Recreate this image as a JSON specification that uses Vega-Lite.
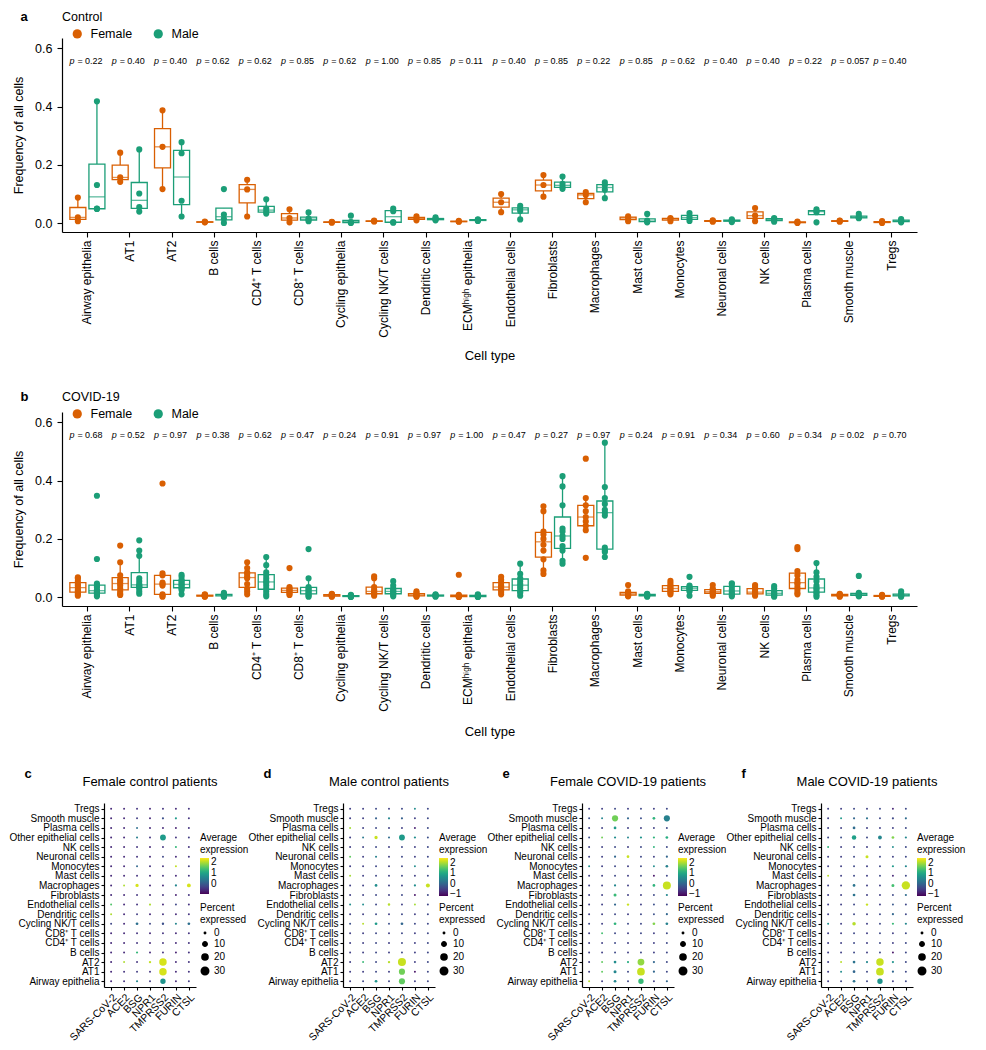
{
"$schema":"https://vega.github.io/schema/vega-lite/v6.json",
"padding":{"left":8,"top":11,"right":2,"bottom":2},
"background":"white",
"config":{"font":"Liberation Sans","view":{"stroke":null},
"axis":{"grid":false,"domainColor":"black","tickColor":"black","labelColor":"black","titleColor":"black","titleFontWeight":"normal","domainWidth":1.2,"tickWidth":1.1},
"legend":{"titleFontWeight":"normal","labelColor":"black","titleColor":"black"},
"title":{"color":"black"}},
"datasets":{
"ctrl":[
{"t":"Airway epithelia","s":"Female","v":0.007},{"t":"Airway epithelia","s":"Female","v":0.02},{"t":"Airway epithelia","s":"Female","v":0.088},
{"t":"Airway epithelia","s":"Male","v":0.049},{"t":"Airway epithelia","s":"Male","v":0.05},{"t":"Airway epithelia","s":"Male","v":0.131},{"t":"Airway epithelia","s":"Male","v":0.418},
{"t":"AT1","s":"Female","v":0.142},{"t":"AT1","s":"Female","v":0.157},{"t":"AT1","s":"Female","v":0.242},
{"t":"AT1","s":"Male","v":0.04},{"t":"AT1","s":"Male","v":0.055},{"t":"AT1","s":"Male","v":0.102},{"t":"AT1","s":"Male","v":0.253},
{"t":"AT2","s":"Female","v":0.117},{"t":"AT2","s":"Female","v":0.262},{"t":"AT2","s":"Female","v":0.387},
{"t":"AT2","s":"Male","v":0.023},{"t":"AT2","s":"Male","v":0.077},{"t":"AT2","s":"Male","v":0.24},{"t":"AT2","s":"Male","v":0.278},
{"t":"B cells","s":"Female","v":0.003},{"t":"B cells","s":"Female","v":0.004},{"t":"B cells","s":"Female","v":0.006},
{"t":"B cells","s":"Male","v":0.001},{"t":"B cells","s":"Male","v":0.015},{"t":"B cells","s":"Male","v":0.03},{"t":"B cells","s":"Male","v":0.117},
{"t":"CD4⁺ T cells","s":"Female","v":0.023},{"t":"CD4⁺ T cells","s":"Female","v":0.116},{"t":"CD4⁺ T cells","s":"Female","v":0.149},
{"t":"CD4⁺ T cells","s":"Male","v":0.033},{"t":"CD4⁺ T cells","s":"Male","v":0.04},{"t":"CD4⁺ T cells","s":"Male","v":0.05},{"t":"CD4⁺ T cells","s":"Male","v":0.082},
{"t":"CD8⁺ T cells","s":"Female","v":0.003},{"t":"CD8⁺ T cells","s":"Female","v":0.018},{"t":"CD8⁺ T cells","s":"Female","v":0.048},
{"t":"CD8⁺ T cells","s":"Male","v":0.007},{"t":"CD8⁺ T cells","s":"Male","v":0.012},{"t":"CD8⁺ T cells","s":"Male","v":0.016},{"t":"CD8⁺ T cells","s":"Male","v":0.037},
{"t":"Cycling epithelia","s":"Female","v":0.002},{"t":"Cycling epithelia","s":"Female","v":0.004},{"t":"Cycling epithelia","s":"Female","v":0.005},
{"t":"Cycling epithelia","s":"Male","v":0.001},{"t":"Cycling epithelia","s":"Male","v":0.003},{"t":"Cycling epithelia","s":"Male","v":0.004},{"t":"Cycling epithelia","s":"Male","v":0.026},
{"t":"Cycling NK/T cells","s":"Female","v":0.006},{"t":"Cycling NK/T cells","s":"Female","v":0.007},{"t":"Cycling NK/T cells","s":"Female","v":0.009},
{"t":"Cycling NK/T cells","s":"Male","v":0.002},{"t":"Cycling NK/T cells","s":"Male","v":0.004},{"t":"Cycling NK/T cells","s":"Male","v":0.041},{"t":"Cycling NK/T cells","s":"Male","v":0.05},
{"t":"Dendritic cells","s":"Female","v":0.01},{"t":"Dendritic cells","s":"Female","v":0.016},{"t":"Dendritic cells","s":"Female","v":0.024},
{"t":"Dendritic cells","s":"Male","v":0.01},{"t":"Dendritic cells","s":"Male","v":0.013},{"t":"Dendritic cells","s":"Male","v":0.015},{"t":"Dendritic cells","s":"Male","v":0.02},
{"t":"ECMʰⁱᵍʰ epithelia","s":"Female","v":0.005},{"t":"ECMʰⁱᵍʰ epithelia","s":"Female","v":0.006},{"t":"ECMʰⁱᵍʰ epithelia","s":"Female","v":0.008},
{"t":"ECMʰⁱᵍʰ epithelia","s":"Male","v":0.008},{"t":"ECMʰⁱᵍʰ epithelia","s":"Male","v":0.01},{"t":"ECMʰⁱᵍʰ epithelia","s":"Male","v":0.012},{"t":"ECMʰⁱᵍʰ epithelia","s":"Male","v":0.013},
{"t":"Endothelial cells","s":"Female","v":0.038},{"t":"Endothelial cells","s":"Female","v":0.072},{"t":"Endothelial cells","s":"Female","v":0.1},
{"t":"Endothelial cells","s":"Male","v":0.013},{"t":"Endothelial cells","s":"Male","v":0.042},{"t":"Endothelial cells","s":"Male","v":0.05},{"t":"Endothelial cells","s":"Male","v":0.06},
{"t":"Fibroblasts","s":"Female","v":0.091},{"t":"Fibroblasts","s":"Female","v":0.131},{"t":"Fibroblasts","s":"Female","v":0.165},
{"t":"Fibroblasts","s":"Male","v":0.118},{"t":"Fibroblasts","s":"Male","v":0.125},{"t":"Fibroblasts","s":"Male","v":0.135},{"t":"Fibroblasts","s":"Male","v":0.16},
{"t":"Macrophages","s":"Female","v":0.072},{"t":"Macrophages","s":"Female","v":0.097},{"t":"Macrophages","s":"Female","v":0.107},
{"t":"Macrophages","s":"Male","v":0.086},{"t":"Macrophages","s":"Male","v":0.115},{"t":"Macrophages","s":"Male","v":0.13},{"t":"Macrophages","s":"Male","v":0.14},
{"t":"Mast cells","s":"Female","v":0.007},{"t":"Mast cells","s":"Female","v":0.018},{"t":"Mast cells","s":"Female","v":0.024},
{"t":"Mast cells","s":"Male","v":0.003},{"t":"Mast cells","s":"Male","v":0.006},{"t":"Mast cells","s":"Male","v":0.009},{"t":"Mast cells","s":"Male","v":0.032},
{"t":"Monocytes","s":"Female","v":0.007},{"t":"Monocytes","s":"Female","v":0.015},{"t":"Monocytes","s":"Female","v":0.018},
{"t":"Monocytes","s":"Male","v":0.008},{"t":"Monocytes","s":"Male","v":0.015},{"t":"Monocytes","s":"Male","v":0.024},{"t":"Monocytes","s":"Male","v":0.035},
{"t":"Neuronal cells","s":"Female","v":0.005},{"t":"Neuronal cells","s":"Female","v":0.008},{"t":"Neuronal cells","s":"Female","v":0.01},
{"t":"Neuronal cells","s":"Male","v":0.004},{"t":"Neuronal cells","s":"Male","v":0.008},{"t":"Neuronal cells","s":"Male","v":0.01},{"t":"Neuronal cells","s":"Male","v":0.013},
{"t":"NK cells","s":"Female","v":0.007},{"t":"NK cells","s":"Female","v":0.026},{"t":"NK cells","s":"Female","v":0.052},
{"t":"NK cells","s":"Male","v":0.005},{"t":"NK cells","s":"Male","v":0.01},{"t":"NK cells","s":"Male","v":0.015},{"t":"NK cells","s":"Male","v":0.018},
{"t":"Plasma cells","s":"Female","v":0.001},{"t":"Plasma cells","s":"Female","v":0.003},{"t":"Plasma cells","s":"Female","v":0.006},
{"t":"Plasma cells","s":"Male","v":0.003},{"t":"Plasma cells","s":"Male","v":0.038},{"t":"Plasma cells","s":"Male","v":0.042},{"t":"Plasma cells","s":"Male","v":0.048},
{"t":"Smooth muscle","s":"Female","v":0.005},{"t":"Smooth muscle","s":"Female","v":0.008},{"t":"Smooth muscle","s":"Female","v":0.009},
{"t":"Smooth muscle","s":"Male","v":0.017},{"t":"Smooth muscle","s":"Male","v":0.019},{"t":"Smooth muscle","s":"Male","v":0.022},{"t":"Smooth muscle","s":"Male","v":0.032},
{"t":"Tregs","s":"Female","v":0.001},{"t":"Tregs","s":"Female","v":0.004},{"t":"Tregs","s":"Female","v":0.007},
{"t":"Tregs","s":"Male","v":0.003},{"t":"Tregs","s":"Male","v":0.006},{"t":"Tregs","s":"Male","v":0.01},{"t":"Tregs","s":"Male","v":0.014}
],
"covid":[
{"t":"Airway epithelia","s":"Female","v":0.005},{"t":"Airway epithelia","s":"Female","v":0.01},{"t":"Airway epithelia","s":"Female","v":0.015},{"t":"Airway epithelia","s":"Female","v":0.02},{"t":"Airway epithelia","s":"Female","v":0.025},{"t":"Airway epithelia","s":"Female","v":0.033},{"t":"Airway epithelia","s":"Female","v":0.04},{"t":"Airway epithelia","s":"Female","v":0.045},{"t":"Airway epithelia","s":"Female","v":0.055},{"t":"Airway epithelia","s":"Female","v":0.065},{"t":"Airway epithelia","s":"Female","v":0.068},
{"t":"Airway epithelia","s":"Male","v":0.003},{"t":"Airway epithelia","s":"Male","v":0.008},{"t":"Airway epithelia","s":"Male","v":0.012},{"t":"Airway epithelia","s":"Male","v":0.015},{"t":"Airway epithelia","s":"Male","v":0.018},{"t":"Airway epithelia","s":"Male","v":0.02},{"t":"Airway epithelia","s":"Male","v":0.025},{"t":"Airway epithelia","s":"Male","v":0.035},{"t":"Airway epithelia","s":"Male","v":0.04},{"t":"Airway epithelia","s":"Male","v":0.047},{"t":"Airway epithelia","s":"Male","v":0.131},{"t":"Airway epithelia","s":"Male","v":0.348},
{"t":"AT1","s":"Female","v":0.008},{"t":"AT1","s":"Female","v":0.012},{"t":"AT1","s":"Female","v":0.02},{"t":"AT1","s":"Female","v":0.03},{"t":"AT1","s":"Female","v":0.04},{"t":"AT1","s":"Female","v":0.047},{"t":"AT1","s":"Female","v":0.055},{"t":"AT1","s":"Female","v":0.06},{"t":"AT1","s":"Female","v":0.075},{"t":"AT1","s":"Female","v":0.12},{"t":"AT1","s":"Female","v":0.177},
{"t":"AT1","s":"Male","v":0.012},{"t":"AT1","s":"Male","v":0.02},{"t":"AT1","s":"Male","v":0.03},{"t":"AT1","s":"Male","v":0.035},{"t":"AT1","s":"Male","v":0.038},{"t":"AT1","s":"Male","v":0.04},{"t":"AT1","s":"Male","v":0.045},{"t":"AT1","s":"Male","v":0.055},{"t":"AT1","s":"Male","v":0.065},{"t":"AT1","s":"Male","v":0.142},{"t":"AT1","s":"Male","v":0.16},{"t":"AT1","s":"Male","v":0.195},
{"t":"AT2","s":"Female","v":0.002},{"t":"AT2","s":"Female","v":0.005},{"t":"AT2","s":"Female","v":0.01},{"t":"AT2","s":"Female","v":0.04},{"t":"AT2","s":"Female","v":0.045},{"t":"AT2","s":"Female","v":0.05},{"t":"AT2","s":"Female","v":0.075},{"t":"AT2","s":"Female","v":0.082},{"t":"AT2","s":"Female","v":0.39},
{"t":"AT2","s":"Male","v":0.01},{"t":"AT2","s":"Male","v":0.025},{"t":"AT2","s":"Male","v":0.03},{"t":"AT2","s":"Male","v":0.035},{"t":"AT2","s":"Male","v":0.04},{"t":"AT2","s":"Male","v":0.044},{"t":"AT2","s":"Male","v":0.05},{"t":"AT2","s":"Male","v":0.055},{"t":"AT2","s":"Male","v":0.06},{"t":"AT2","s":"Male","v":0.07},{"t":"AT2","s":"Male","v":0.077},
{"t":"B cells","s":"Female","v":0.002},{"t":"B cells","s":"Female","v":0.003},{"t":"B cells","s":"Female","v":0.004},{"t":"B cells","s":"Female","v":0.004},{"t":"B cells","s":"Female","v":0.005},{"t":"B cells","s":"Female","v":0.006},{"t":"B cells","s":"Female","v":0.007},{"t":"B cells","s":"Female","v":0.008},{"t":"B cells","s":"Female","v":0.01},
{"t":"B cells","s":"Male","v":0.002},{"t":"B cells","s":"Male","v":0.003},{"t":"B cells","s":"Male","v":0.005},{"t":"B cells","s":"Male","v":0.006},{"t":"B cells","s":"Male","v":0.008},{"t":"B cells","s":"Male","v":0.009},{"t":"B cells","s":"Male","v":0.01},{"t":"B cells","s":"Male","v":0.012},{"t":"B cells","s":"Male","v":0.015},
{"t":"CD4⁺ T cells","s":"Female","v":0.01},{"t":"CD4⁺ T cells","s":"Female","v":0.02},{"t":"CD4⁺ T cells","s":"Female","v":0.03},{"t":"CD4⁺ T cells","s":"Female","v":0.045},{"t":"CD4⁺ T cells","s":"Female","v":0.065},{"t":"CD4⁺ T cells","s":"Female","v":0.07},{"t":"CD4⁺ T cells","s":"Female","v":0.08},{"t":"CD4⁺ T cells","s":"Female","v":0.085},{"t":"CD4⁺ T cells","s":"Female","v":0.1},{"t":"CD4⁺ T cells","s":"Female","v":0.12},
{"t":"CD4⁺ T cells","s":"Male","v":0.003},{"t":"CD4⁺ T cells","s":"Male","v":0.01},{"t":"CD4⁺ T cells","s":"Male","v":0.02},{"t":"CD4⁺ T cells","s":"Male","v":0.03},{"t":"CD4⁺ T cells","s":"Male","v":0.04},{"t":"CD4⁺ T cells","s":"Male","v":0.05},{"t":"CD4⁺ T cells","s":"Male","v":0.055},{"t":"CD4⁺ T cells","s":"Male","v":0.065},{"t":"CD4⁺ T cells","s":"Male","v":0.075},{"t":"CD4⁺ T cells","s":"Male","v":0.085},{"t":"CD4⁺ T cells","s":"Male","v":0.11},{"t":"CD4⁺ T cells","s":"Male","v":0.138},
{"t":"CD8⁺ T cells","s":"Female","v":0.008},{"t":"CD8⁺ T cells","s":"Female","v":0.012},{"t":"CD8⁺ T cells","s":"Female","v":0.018},{"t":"CD8⁺ T cells","s":"Female","v":0.022},{"t":"CD8⁺ T cells","s":"Female","v":0.025},{"t":"CD8⁺ T cells","s":"Female","v":0.03},{"t":"CD8⁺ T cells","s":"Female","v":0.035},{"t":"CD8⁺ T cells","s":"Female","v":0.1},
{"t":"CD8⁺ T cells","s":"Male","v":0.002},{"t":"CD8⁺ T cells","s":"Male","v":0.005},{"t":"CD8⁺ T cells","s":"Male","v":0.01},{"t":"CD8⁺ T cells","s":"Male","v":0.015},{"t":"CD8⁺ T cells","s":"Male","v":0.02},{"t":"CD8⁺ T cells","s":"Male","v":0.025},{"t":"CD8⁺ T cells","s":"Male","v":0.03},{"t":"CD8⁺ T cells","s":"Male","v":0.035},{"t":"CD8⁺ T cells","s":"Male","v":0.065},{"t":"CD8⁺ T cells","s":"Male","v":0.165},
{"t":"Cycling epithelia","s":"Female","v":0.002},{"t":"Cycling epithelia","s":"Female","v":0.003},{"t":"Cycling epithelia","s":"Female","v":0.005},{"t":"Cycling epithelia","s":"Female","v":0.006},{"t":"Cycling epithelia","s":"Female","v":0.008},{"t":"Cycling epithelia","s":"Female","v":0.01},{"t":"Cycling epithelia","s":"Female","v":0.012},
{"t":"Cycling epithelia","s":"Male","v":0.001},{"t":"Cycling epithelia","s":"Male","v":0.002},{"t":"Cycling epithelia","s":"Male","v":0.003},{"t":"Cycling epithelia","s":"Male","v":0.004},{"t":"Cycling epithelia","s":"Male","v":0.005},{"t":"Cycling epithelia","s":"Male","v":0.006},{"t":"Cycling epithelia","s":"Male","v":0.008},
{"t":"Cycling NK/T cells","s":"Female","v":0.005},{"t":"Cycling NK/T cells","s":"Female","v":0.01},{"t":"Cycling NK/T cells","s":"Female","v":0.012},{"t":"Cycling NK/T cells","s":"Female","v":0.015},{"t":"Cycling NK/T cells","s":"Female","v":0.02},{"t":"Cycling NK/T cells","s":"Female","v":0.025},{"t":"Cycling NK/T cells","s":"Female","v":0.035},{"t":"Cycling NK/T cells","s":"Female","v":0.065},{"t":"Cycling NK/T cells","s":"Female","v":0.072},
{"t":"Cycling NK/T cells","s":"Male","v":0.003},{"t":"Cycling NK/T cells","s":"Male","v":0.008},{"t":"Cycling NK/T cells","s":"Male","v":0.012},{"t":"Cycling NK/T cells","s":"Male","v":0.018},{"t":"Cycling NK/T cells","s":"Male","v":0.02},{"t":"Cycling NK/T cells","s":"Male","v":0.025},{"t":"Cycling NK/T cells","s":"Male","v":0.03},{"t":"Cycling NK/T cells","s":"Male","v":0.04},{"t":"Cycling NK/T cells","s":"Male","v":0.055},
{"t":"Dendritic cells","s":"Female","v":0.002},{"t":"Dendritic cells","s":"Female","v":0.004},{"t":"Dendritic cells","s":"Female","v":0.006},{"t":"Dendritic cells","s":"Female","v":0.008},{"t":"Dendritic cells","s":"Female","v":0.01},{"t":"Dendritic cells","s":"Female","v":0.015},{"t":"Dendritic cells","s":"Female","v":0.02},
{"t":"Dendritic cells","s":"Male","v":0.002},{"t":"Dendritic cells","s":"Male","v":0.004},{"t":"Dendritic cells","s":"Male","v":0.005},{"t":"Dendritic cells","s":"Male","v":0.006},{"t":"Dendritic cells","s":"Male","v":0.008},{"t":"Dendritic cells","s":"Male","v":0.01},
{"t":"ECMʰⁱᵍʰ epithelia","s":"Female","v":0.001},{"t":"ECMʰⁱᵍʰ epithelia","s":"Female","v":0.002},{"t":"ECMʰⁱᵍʰ epithelia","s":"Female","v":0.003},{"t":"ECMʰⁱᵍʰ epithelia","s":"Female","v":0.004},{"t":"ECMʰⁱᵍʰ epithelia","s":"Female","v":0.006},{"t":"ECMʰⁱᵍʰ epithelia","s":"Female","v":0.008},{"t":"ECMʰⁱᵍʰ epithelia","s":"Female","v":0.077},
{"t":"ECMʰⁱᵍʰ epithelia","s":"Male","v":0.001},{"t":"ECMʰⁱᵍʰ epithelia","s":"Male","v":0.002},{"t":"ECMʰⁱᵍʰ epithelia","s":"Male","v":0.003},{"t":"ECMʰⁱᵍʰ epithelia","s":"Male","v":0.005},{"t":"ECMʰⁱᵍʰ epithelia","s":"Male","v":0.007},{"t":"ECMʰⁱᵍʰ epithelia","s":"Male","v":0.01},
{"t":"Endothelial cells","s":"Female","v":0.01},{"t":"Endothelial cells","s":"Female","v":0.018},{"t":"Endothelial cells","s":"Female","v":0.025},{"t":"Endothelial cells","s":"Female","v":0.03},{"t":"Endothelial cells","s":"Female","v":0.035},{"t":"Endothelial cells","s":"Female","v":0.04},{"t":"Endothelial cells","s":"Female","v":0.05},{"t":"Endothelial cells","s":"Female","v":0.06},{"t":"Endothelial cells","s":"Female","v":0.07},
{"t":"Endothelial cells","s":"Male","v":0.005},{"t":"Endothelial cells","s":"Male","v":0.015},{"t":"Endothelial cells","s":"Male","v":0.02},{"t":"Endothelial cells","s":"Male","v":0.03},{"t":"Endothelial cells","s":"Male","v":0.038},{"t":"Endothelial cells","s":"Male","v":0.045},{"t":"Endothelial cells","s":"Male","v":0.055},{"t":"Endothelial cells","s":"Male","v":0.065},{"t":"Endothelial cells","s":"Male","v":0.08},{"t":"Endothelial cells","s":"Male","v":0.115},
{"t":"Fibroblasts","s":"Female","v":0.08},{"t":"Fibroblasts","s":"Female","v":0.092},{"t":"Fibroblasts","s":"Female","v":0.13},{"t":"Fibroblasts","s":"Female","v":0.16},{"t":"Fibroblasts","s":"Female","v":0.18},{"t":"Fibroblasts","s":"Female","v":0.2},{"t":"Fibroblasts","s":"Female","v":0.215},{"t":"Fibroblasts","s":"Female","v":0.225},{"t":"Fibroblasts","s":"Female","v":0.295},{"t":"Fibroblasts","s":"Female","v":0.312},
{"t":"Fibroblasts","s":"Male","v":0.115},{"t":"Fibroblasts","s":"Male","v":0.125},{"t":"Fibroblasts","s":"Male","v":0.16},{"t":"Fibroblasts","s":"Male","v":0.175},{"t":"Fibroblasts","s":"Male","v":0.2},{"t":"Fibroblasts","s":"Male","v":0.21},{"t":"Fibroblasts","s":"Male","v":0.225},{"t":"Fibroblasts","s":"Male","v":0.235},{"t":"Fibroblasts","s":"Male","v":0.315},{"t":"Fibroblasts","s":"Male","v":0.38},{"t":"Fibroblasts","s":"Male","v":0.415},
{"t":"Macrophages","s":"Female","v":0.135},{"t":"Macrophages","s":"Female","v":0.23},{"t":"Macrophages","s":"Female","v":0.245},{"t":"Macrophages","s":"Female","v":0.26},{"t":"Macrophages","s":"Female","v":0.275},{"t":"Macrophages","s":"Female","v":0.295},{"t":"Macrophages","s":"Female","v":0.315},{"t":"Macrophages","s":"Female","v":0.34},{"t":"Macrophages","s":"Female","v":0.475},
{"t":"Macrophages","s":"Male","v":0.138},{"t":"Macrophages","s":"Male","v":0.155},{"t":"Macrophages","s":"Male","v":0.16},{"t":"Macrophages","s":"Male","v":0.17},{"t":"Macrophages","s":"Male","v":0.28},{"t":"Macrophages","s":"Male","v":0.29},{"t":"Macrophages","s":"Male","v":0.3},{"t":"Macrophages","s":"Male","v":0.32},{"t":"Macrophages","s":"Male","v":0.34},{"t":"Macrophages","s":"Male","v":0.378},{"t":"Macrophages","s":"Male","v":0.53},
{"t":"Mast cells","s":"Female","v":0.003},{"t":"Mast cells","s":"Female","v":0.005},{"t":"Mast cells","s":"Female","v":0.008},{"t":"Mast cells","s":"Female","v":0.01},{"t":"Mast cells","s":"Female","v":0.012},{"t":"Mast cells","s":"Female","v":0.015},{"t":"Mast cells","s":"Female","v":0.02},{"t":"Mast cells","s":"Female","v":0.042},
{"t":"Mast cells","s":"Male","v":0.002},{"t":"Mast cells","s":"Male","v":0.004},{"t":"Mast cells","s":"Male","v":0.006},{"t":"Mast cells","s":"Male","v":0.008},{"t":"Mast cells","s":"Male","v":0.01},{"t":"Mast cells","s":"Male","v":0.012},
{"t":"Monocytes","s":"Female","v":0.01},{"t":"Monocytes","s":"Female","v":0.015},{"t":"Monocytes","s":"Female","v":0.02},{"t":"Monocytes","s":"Female","v":0.025},{"t":"Monocytes","s":"Female","v":0.03},{"t":"Monocytes","s":"Female","v":0.035},{"t":"Monocytes","s":"Female","v":0.04},{"t":"Monocytes","s":"Female","v":0.048},{"t":"Monocytes","s":"Female","v":0.056},
{"t":"Monocytes","s":"Male","v":0.005},{"t":"Monocytes","s":"Male","v":0.02},{"t":"Monocytes","s":"Male","v":0.025},{"t":"Monocytes","s":"Male","v":0.03},{"t":"Monocytes","s":"Male","v":0.032},{"t":"Monocytes","s":"Male","v":0.035},{"t":"Monocytes","s":"Male","v":0.04},{"t":"Monocytes","s":"Male","v":0.07},
{"t":"Neuronal cells","s":"Female","v":0.005},{"t":"Neuronal cells","s":"Female","v":0.01},{"t":"Neuronal cells","s":"Female","v":0.015},{"t":"Neuronal cells","s":"Female","v":0.018},{"t":"Neuronal cells","s":"Female","v":0.02},{"t":"Neuronal cells","s":"Female","v":0.025},{"t":"Neuronal cells","s":"Female","v":0.03},{"t":"Neuronal cells","s":"Female","v":0.042},
{"t":"Neuronal cells","s":"Male","v":0.003},{"t":"Neuronal cells","s":"Male","v":0.008},{"t":"Neuronal cells","s":"Male","v":0.012},{"t":"Neuronal cells","s":"Male","v":0.018},{"t":"Neuronal cells","s":"Male","v":0.025},{"t":"Neuronal cells","s":"Male","v":0.035},{"t":"Neuronal cells","s":"Male","v":0.045},{"t":"Neuronal cells","s":"Male","v":0.048},
{"t":"NK cells","s":"Female","v":0.005},{"t":"NK cells","s":"Female","v":0.01},{"t":"NK cells","s":"Female","v":0.012},{"t":"NK cells","s":"Female","v":0.015},{"t":"NK cells","s":"Female","v":0.02},{"t":"NK cells","s":"Female","v":0.028},{"t":"NK cells","s":"Female","v":0.035},{"t":"NK cells","s":"Female","v":0.042},
{"t":"NK cells","s":"Male","v":0.002},{"t":"NK cells","s":"Male","v":0.005},{"t":"NK cells","s":"Male","v":0.008},{"t":"NK cells","s":"Male","v":0.012},{"t":"NK cells","s":"Male","v":0.015},{"t":"NK cells","s":"Male","v":0.02},{"t":"NK cells","s":"Male","v":0.03},{"t":"NK cells","s":"Male","v":0.038},
{"t":"Plasma cells","s":"Female","v":0.01},{"t":"Plasma cells","s":"Female","v":0.015},{"t":"Plasma cells","s":"Female","v":0.025},{"t":"Plasma cells","s":"Female","v":0.035},{"t":"Plasma cells","s":"Female","v":0.045},{"t":"Plasma cells","s":"Female","v":0.05},{"t":"Plasma cells","s":"Female","v":0.06},{"t":"Plasma cells","s":"Female","v":0.075},{"t":"Plasma cells","s":"Female","v":0.09},{"t":"Plasma cells","s":"Female","v":0.165},{"t":"Plasma cells","s":"Female","v":0.172},
{"t":"Plasma cells","s":"Male","v":0.002},{"t":"Plasma cells","s":"Male","v":0.008},{"t":"Plasma cells","s":"Male","v":0.015},{"t":"Plasma cells","s":"Male","v":0.02},{"t":"Plasma cells","s":"Male","v":0.028},{"t":"Plasma cells","s":"Male","v":0.032},{"t":"Plasma cells","s":"Male","v":0.04},{"t":"Plasma cells","s":"Male","v":0.055},{"t":"Plasma cells","s":"Male","v":0.07},{"t":"Plasma cells","s":"Male","v":0.085},{"t":"Plasma cells","s":"Male","v":0.117},
{"t":"Smooth muscle","s":"Female","v":0.002},{"t":"Smooth muscle","s":"Female","v":0.004},{"t":"Smooth muscle","s":"Female","v":0.006},{"t":"Smooth muscle","s":"Female","v":0.008},{"t":"Smooth muscle","s":"Female","v":0.01},{"t":"Smooth muscle","s":"Female","v":0.012},
{"t":"Smooth muscle","s":"Male","v":0.003},{"t":"Smooth muscle","s":"Male","v":0.005},{"t":"Smooth muscle","s":"Male","v":0.008},{"t":"Smooth muscle","s":"Male","v":0.01},{"t":"Smooth muscle","s":"Male","v":0.012},{"t":"Smooth muscle","s":"Male","v":0.015},{"t":"Smooth muscle","s":"Male","v":0.073},
{"t":"Tregs","s":"Female","v":0.002},{"t":"Tregs","s":"Female","v":0.003},{"t":"Tregs","s":"Female","v":0.004},{"t":"Tregs","s":"Female","v":0.006},{"t":"Tregs","s":"Female","v":0.008},
{"t":"Tregs","s":"Male","v":0.002},{"t":"Tregs","s":"Male","v":0.004},{"t":"Tregs","s":"Male","v":0.006},{"t":"Tregs","s":"Male","v":0.008},{"t":"Tregs","s":"Male","v":0.012},{"t":"Tregs","s":"Male","v":0.02}
],
"pc":[{"t":"Airway epithelia","p":"0.22"},{"t":"AT1","p":"0.40"},{"t":"AT2","p":"0.40"},{"t":"B cells","p":"0.62"},{"t":"CD4⁺ T cells","p":"0.62"},{"t":"CD8⁺ T cells","p":"0.85"},{"t":"Cycling epithelia","p":"0.62"},{"t":"Cycling NK/T cells","p":"1.00"},{"t":"Dendritic cells","p":"0.85"},{"t":"ECMʰⁱᵍʰ epithelia","p":"0.11"},{"t":"Endothelial cells","p":"0.40"},{"t":"Fibroblasts","p":"0.85"},{"t":"Macrophages","p":"0.22"},{"t":"Mast cells","p":"0.85"},{"t":"Monocytes","p":"0.62"},{"t":"Neuronal cells","p":"0.40"},{"t":"NK cells","p":"0.40"},{"t":"Plasma cells","p":"0.22"},{"t":"Smooth muscle","p":"0.057"},{"t":"Tregs","p":"0.40"}],
"pv":[{"t":"Airway epithelia","p":"0.68"},{"t":"AT1","p":"0.52"},{"t":"AT2","p":"0.97"},{"t":"B cells","p":"0.38"},{"t":"CD4⁺ T cells","p":"0.62"},{"t":"CD8⁺ T cells","p":"0.47"},{"t":"Cycling epithelia","p":"0.24"},{"t":"Cycling NK/T cells","p":"0.91"},{"t":"Dendritic cells","p":"0.97"},{"t":"ECMʰⁱᵍʰ epithelia","p":"1.00"},{"t":"Endothelial cells","p":"0.47"},{"t":"Fibroblasts","p":"0.27"},{"t":"Macrophages","p":"0.97"},{"t":"Mast cells","p":"0.24"},{"t":"Monocytes","p":"0.91"},{"t":"Neuronal cells","p":"0.34"},{"t":"NK cells","p":"0.60"},{"t":"Plasma cells","p":"0.34"},{"t":"Smooth muscle","p":"0.02"},{"t":"Tregs","p":"0.70"}],
"dc":[
{"t":"Tregs","g":"SARS-CoV-2","e":-0.5,"s":1},{"t":"Tregs","g":"ACE2","e":-0.5,"s":1},{"t":"Tregs","g":"BSG","e":-0.4,"s":1},{"t":"Tregs","g":"NPR1","e":-0.5,"s":1},{"t":"Tregs","g":"TMPRSS2","e":-0.4,"s":1},{"t":"Tregs","g":"FURIN","e":-0.5,"s":1},{"t":"Tregs","g":"CTSL","e":-0.4,"s":1},
{"t":"Smooth muscle","g":"SARS-CoV-2","e":-0.5,"s":1},{"t":"Smooth muscle","g":"ACE2","e":-0.5,"s":1},{"t":"Smooth muscle","g":"BSG","e":-0.3,"s":1},{"t":"Smooth muscle","g":"NPR1","e":-0.5,"s":1},{"t":"Smooth muscle","g":"TMPRSS2","e":-0.1,"s":1.5},{"t":"Smooth muscle","g":"FURIN","e":0.9,"s":1.5},{"t":"Smooth muscle","g":"CTSL","e":-0.4,"s":1},
{"t":"Plasma cells","g":"SARS-CoV-2","e":-0.5,"s":1},{"t":"Plasma cells","g":"ACE2","e":-0.5,"s":1},{"t":"Plasma cells","g":"BSG","e":0.3,"s":1},{"t":"Plasma cells","g":"NPR1","e":-0.5,"s":1},{"t":"Plasma cells","g":"TMPRSS2","e":-0.5,"s":1},{"t":"Plasma cells","g":"FURIN","e":-0.6,"s":1},{"t":"Plasma cells","g":"CTSL","e":-0.4,"s":1},
{"t":"Other epithelial cells","g":"SARS-CoV-2","e":-0.5,"s":1},{"t":"Other epithelial cells","g":"ACE2","e":-0.5,"s":1},{"t":"Other epithelial cells","g":"BSG","e":0.5,"s":1.2},{"t":"Other epithelial cells","g":"NPR1","e":-0.4,"s":1},{"t":"Other epithelial cells","g":"TMPRSS2","e":0.9,"s":18},{"t":"Other epithelial cells","g":"FURIN","e":-0.4,"s":1},{"t":"Other epithelial cells","g":"CTSL","e":-0.3,"s":1},
{"t":"NK cells","g":"SARS-CoV-2","e":-0.5,"s":1},{"t":"NK cells","g":"ACE2","e":-0.5,"s":1},{"t":"NK cells","g":"BSG","e":-0.4,"s":1},{"t":"NK cells","g":"NPR1","e":-0.5,"s":1},{"t":"NK cells","g":"TMPRSS2","e":-0.4,"s":1},{"t":"NK cells","g":"FURIN","e":1.3,"s":1.2},{"t":"NK cells","g":"CTSL","e":-0.4,"s":1},
{"t":"Neuronal cells","g":"SARS-CoV-2","e":-0.5,"s":1},{"t":"Neuronal cells","g":"ACE2","e":-0.5,"s":1},{"t":"Neuronal cells","g":"BSG","e":-0.4,"s":1},{"t":"Neuronal cells","g":"NPR1","e":-0.5,"s":1},{"t":"Neuronal cells","g":"TMPRSS2","e":-0.2,"s":1},{"t":"Neuronal cells","g":"FURIN","e":-0.5,"s":1},{"t":"Neuronal cells","g":"CTSL","e":-0.4,"s":1},
{"t":"Monocytes","g":"SARS-CoV-2","e":-0.5,"s":1},{"t":"Monocytes","g":"ACE2","e":-0.5,"s":1},{"t":"Monocytes","g":"BSG","e":0.2,"s":1},{"t":"Monocytes","g":"NPR1","e":-0.4,"s":1},{"t":"Monocytes","g":"TMPRSS2","e":-0.4,"s":1},{"t":"Monocytes","g":"FURIN","e":2.1,"s":1.2},{"t":"Monocytes","g":"CTSL","e":-0.3,"s":1},
{"t":"Mast cells","g":"SARS-CoV-2","e":-0.5,"s":1},{"t":"Mast cells","g":"ACE2","e":-0.5,"s":1},{"t":"Mast cells","g":"BSG","e":-0.4,"s":1},{"t":"Mast cells","g":"NPR1","e":-0.5,"s":1},{"t":"Mast cells","g":"TMPRSS2","e":-0.4,"s":1},{"t":"Mast cells","g":"FURIN","e":-0.5,"s":1},{"t":"Mast cells","g":"CTSL","e":-0.4,"s":1},
{"t":"Macrophages","g":"SARS-CoV-2","e":-0.5,"s":1},{"t":"Macrophages","g":"ACE2","e":2.0,"s":1},{"t":"Macrophages","g":"BSG","e":2.2,"s":5},{"t":"Macrophages","g":"NPR1","e":-0.5,"s":1},{"t":"Macrophages","g":"TMPRSS2","e":-0.5,"s":1},{"t":"Macrophages","g":"FURIN","e":0.6,"s":1.5},{"t":"Macrophages","g":"CTSL","e":2.2,"s":7},
{"t":"Fibroblasts","g":"SARS-CoV-2","e":-0.5,"s":1},{"t":"Fibroblasts","g":"ACE2","e":-0.5,"s":1},{"t":"Fibroblasts","g":"BSG","e":-0.4,"s":1},{"t":"Fibroblasts","g":"NPR1","e":-0.5,"s":1},{"t":"Fibroblasts","g":"TMPRSS2","e":-0.4,"s":1},{"t":"Fibroblasts","g":"FURIN","e":-0.6,"s":1},{"t":"Fibroblasts","g":"CTSL","e":-0.4,"s":1},
{"t":"Endothelial cells","g":"SARS-CoV-2","e":1.5,"s":1},{"t":"Endothelial cells","g":"ACE2","e":-0.5,"s":1},{"t":"Endothelial cells","g":"BSG","e":-0.4,"s":1},{"t":"Endothelial cells","g":"NPR1","e":2.0,"s":1.5},{"t":"Endothelial cells","g":"TMPRSS2","e":-0.5,"s":1},{"t":"Endothelial cells","g":"FURIN","e":-0.2,"s":1},{"t":"Endothelial cells","g":"CTSL","e":-0.4,"s":1},
{"t":"Dendritic cells","g":"SARS-CoV-2","e":2.0,"s":1},{"t":"Dendritic cells","g":"ACE2","e":-0.5,"s":1},{"t":"Dendritic cells","g":"BSG","e":-0.3,"s":1},{"t":"Dendritic cells","g":"NPR1","e":-0.5,"s":1},{"t":"Dendritic cells","g":"TMPRSS2","e":-0.4,"s":1},{"t":"Dendritic cells","g":"FURIN","e":-0.5,"s":1},{"t":"Dendritic cells","g":"CTSL","e":-0.4,"s":1},
{"t":"Cycling NK/T cells","g":"SARS-CoV-2","e":-0.2,"s":1},{"t":"Cycling NK/T cells","g":"ACE2","e":-0.5,"s":1},{"t":"Cycling NK/T cells","g":"BSG","e":0.3,"s":3},{"t":"Cycling NK/T cells","g":"NPR1","e":-0.2,"s":1},{"t":"Cycling NK/T cells","g":"TMPRSS2","e":-0.1,"s":2},{"t":"Cycling NK/T cells","g":"FURIN","e":0.6,"s":1.2},{"t":"Cycling NK/T cells","g":"CTSL","e":0.3,"s":3},
{"t":"CD8⁺ T cells","g":"SARS-CoV-2","e":-0.5,"s":1},{"t":"CD8⁺ T cells","g":"ACE2","e":-0.5,"s":1},{"t":"CD8⁺ T cells","g":"BSG","e":-0.4,"s":1},{"t":"CD8⁺ T cells","g":"NPR1","e":-0.5,"s":1},{"t":"CD8⁺ T cells","g":"TMPRSS2","e":-0.4,"s":1},{"t":"CD8⁺ T cells","g":"FURIN","e":-0.5,"s":1},{"t":"CD8⁺ T cells","g":"CTSL","e":-0.4,"s":1},
{"t":"CD4⁺ T cells","g":"SARS-CoV-2","e":-0.5,"s":1},{"t":"CD4⁺ T cells","g":"ACE2","e":-0.5,"s":1},{"t":"CD4⁺ T cells","g":"BSG","e":-0.4,"s":1},{"t":"CD4⁺ T cells","g":"NPR1","e":-0.5,"s":1},{"t":"CD4⁺ T cells","g":"TMPRSS2","e":-0.4,"s":1},{"t":"CD4⁺ T cells","g":"FURIN","e":-0.5,"s":1},{"t":"CD4⁺ T cells","g":"CTSL","e":-0.4,"s":1},
{"t":"B cells","g":"SARS-CoV-2","e":-0.5,"s":1},{"t":"B cells","g":"ACE2","e":-0.5,"s":1},{"t":"B cells","g":"BSG","e":1.3,"s":1.5},{"t":"B cells","g":"NPR1","e":-0.5,"s":1},{"t":"B cells","g":"TMPRSS2","e":-0.4,"s":1},{"t":"B cells","g":"FURIN","e":-0.6,"s":1},{"t":"B cells","g":"CTSL","e":-0.4,"s":1},
{"t":"AT2","g":"SARS-CoV-2","e":-0.5,"s":1},{"t":"AT2","g":"ACE2","e":2.0,"s":1},{"t":"AT2","g":"BSG","e":-0.4,"s":1},{"t":"AT2","g":"NPR1","e":2.1,"s":2},{"t":"AT2","g":"TMPRSS2","e":2.2,"s":30},{"t":"AT2","g":"FURIN","e":-0.5,"s":1},{"t":"AT2","g":"CTSL","e":-0.4,"s":1},
{"t":"AT1","g":"SARS-CoV-2","e":-0.5,"s":1},{"t":"AT1","g":"ACE2","e":-0.4,"s":1},{"t":"AT1","g":"BSG","e":-0.3,"s":1},{"t":"AT1","g":"NPR1","e":-0.4,"s":1},{"t":"AT1","g":"TMPRSS2","e":2.2,"s":30},{"t":"AT1","g":"FURIN","e":-0.5,"s":1},{"t":"AT1","g":"CTSL","e":-0.4,"s":1},
{"t":"Airway epithelia","g":"SARS-CoV-2","e":-0.5,"s":1},{"t":"Airway epithelia","g":"ACE2","e":-0.4,"s":1},{"t":"Airway epithelia","g":"BSG","e":0.6,"s":1.5},{"t":"Airway epithelia","g":"NPR1","e":-0.3,"s":1},{"t":"Airway epithelia","g":"TMPRSS2","e":0.8,"s":15},{"t":"Airway epithelia","g":"FURIN","e":-0.5,"s":1},{"t":"Airway epithelia","g":"CTSL","e":-0.3,"s":1}
],
"dd":[
{"t":"Tregs","g":"SARS-CoV-2","e":-0.5,"s":1},{"t":"Tregs","g":"ACE2","e":-0.5,"s":1},{"t":"Tregs","g":"BSG","e":-0.4,"s":1},{"t":"Tregs","g":"NPR1","e":-0.5,"s":1},{"t":"Tregs","g":"TMPRSS2","e":-0.4,"s":1},{"t":"Tregs","g":"FURIN","e":0.6,"s":1},{"t":"Tregs","g":"CTSL","e":-0.4,"s":1},
{"t":"Smooth muscle","g":"SARS-CoV-2","e":-0.5,"s":1},{"t":"Smooth muscle","g":"ACE2","e":-0.5,"s":1},{"t":"Smooth muscle","g":"BSG","e":-0.1,"s":1.5},{"t":"Smooth muscle","g":"NPR1","e":0.5,"s":1.5},{"t":"Smooth muscle","g":"TMPRSS2","e":-0.1,"s":1.5},{"t":"Smooth muscle","g":"FURIN","e":-0.5,"s":1},{"t":"Smooth muscle","g":"CTSL","e":-0.4,"s":1},
{"t":"Plasma cells","g":"SARS-CoV-2","e":2.0,"s":1},{"t":"Plasma cells","g":"ACE2","e":-0.5,"s":1},{"t":"Plasma cells","g":"BSG","e":-0.4,"s":1},{"t":"Plasma cells","g":"NPR1","e":-0.5,"s":1},{"t":"Plasma cells","g":"TMPRSS2","e":-0.5,"s":1},{"t":"Plasma cells","g":"FURIN","e":-0.9,"s":1},{"t":"Plasma cells","g":"CTSL","e":-0.4,"s":1},
{"t":"Other epithelial cells","g":"SARS-CoV-2","e":-0.5,"s":1},{"t":"Other epithelial cells","g":"ACE2","e":0.3,"s":1},{"t":"Other epithelial cells","g":"BSG","e":2.2,"s":5},{"t":"Other epithelial cells","g":"NPR1","e":0.1,"s":1.2},{"t":"Other epithelial cells","g":"TMPRSS2","e":0.8,"s":18},{"t":"Other epithelial cells","g":"FURIN","e":0.6,"s":1.5},{"t":"Other epithelial cells","g":"CTSL","e":-0.3,"s":1},
{"t":"NK cells","g":"SARS-CoV-2","e":-0.5,"s":1},{"t":"NK cells","g":"ACE2","e":-0.5,"s":1},{"t":"NK cells","g":"BSG","e":-0.4,"s":1},{"t":"NK cells","g":"NPR1","e":-0.5,"s":1},{"t":"NK cells","g":"TMPRSS2","e":-0.4,"s":1},{"t":"NK cells","g":"FURIN","e":-0.5,"s":1},{"t":"NK cells","g":"CTSL","e":-0.4,"s":1},
{"t":"Neuronal cells","g":"SARS-CoV-2","e":1.6,"s":1},{"t":"Neuronal cells","g":"ACE2","e":-0.5,"s":1},{"t":"Neuronal cells","g":"BSG","e":0.4,"s":1.2},{"t":"Neuronal cells","g":"NPR1","e":-0.5,"s":1},{"t":"Neuronal cells","g":"TMPRSS2","e":-0.4,"s":1},{"t":"Neuronal cells","g":"FURIN","e":-0.5,"s":1},{"t":"Neuronal cells","g":"CTSL","e":-0.4,"s":1},
{"t":"Monocytes","g":"SARS-CoV-2","e":-0.5,"s":1},{"t":"Monocytes","g":"ACE2","e":-0.5,"s":1},{"t":"Monocytes","g":"BSG","e":-0.4,"s":1},{"t":"Monocytes","g":"NPR1","e":-0.5,"s":1},{"t":"Monocytes","g":"TMPRSS2","e":-0.4,"s":1},{"t":"Monocytes","g":"FURIN","e":0.6,"s":1},{"t":"Monocytes","g":"CTSL","e":-0.4,"s":1},
{"t":"Mast cells","g":"SARS-CoV-2","e":2.0,"s":1},{"t":"Mast cells","g":"ACE2","e":-0.5,"s":1},{"t":"Mast cells","g":"BSG","e":-0.4,"s":1},{"t":"Mast cells","g":"NPR1","e":-0.5,"s":1},{"t":"Mast cells","g":"TMPRSS2","e":-0.4,"s":1},{"t":"Mast cells","g":"FURIN","e":-0.5,"s":1},{"t":"Mast cells","g":"CTSL","e":-0.4,"s":1},
{"t":"Macrophages","g":"SARS-CoV-2","e":-0.5,"s":1},{"t":"Macrophages","g":"ACE2","e":-0.5,"s":1},{"t":"Macrophages","g":"BSG","e":0.6,"s":3},{"t":"Macrophages","g":"NPR1","e":-0.5,"s":1},{"t":"Macrophages","g":"TMPRSS2","e":-0.5,"s":1},{"t":"Macrophages","g":"FURIN","e":0.6,"s":1.5},{"t":"Macrophages","g":"CTSL","e":2.2,"s":8},
{"t":"Fibroblasts","g":"SARS-CoV-2","e":-0.5,"s":1},{"t":"Fibroblasts","g":"ACE2","e":-0.5,"s":1},{"t":"Fibroblasts","g":"BSG","e":-0.4,"s":1},{"t":"Fibroblasts","g":"NPR1","e":-0.5,"s":1},{"t":"Fibroblasts","g":"TMPRSS2","e":-0.4,"s":1},{"t":"Fibroblasts","g":"FURIN","e":-1.0,"s":1},{"t":"Fibroblasts","g":"CTSL","e":-0.4,"s":1},
{"t":"Endothelial cells","g":"SARS-CoV-2","e":0.6,"s":1},{"t":"Endothelial cells","g":"ACE2","e":0.6,"s":1},{"t":"Endothelial cells","g":"BSG","e":-0.4,"s":1},{"t":"Endothelial cells","g":"NPR1","e":2.1,"s":2.5},{"t":"Endothelial cells","g":"TMPRSS2","e":-0.5,"s":1},{"t":"Endothelial cells","g":"FURIN","e":2.0,"s":1},{"t":"Endothelial cells","g":"CTSL","e":-0.4,"s":1},
{"t":"Dendritic cells","g":"SARS-CoV-2","e":-0.5,"s":1},{"t":"Dendritic cells","g":"ACE2","e":-0.5,"s":1},{"t":"Dendritic cells","g":"BSG","e":-0.4,"s":1},{"t":"Dendritic cells","g":"NPR1","e":-0.5,"s":1},{"t":"Dendritic cells","g":"TMPRSS2","e":-0.4,"s":1},{"t":"Dendritic cells","g":"FURIN","e":-0.5,"s":1},{"t":"Dendritic cells","g":"CTSL","e":-0.4,"s":1},
{"t":"Cycling NK/T cells","g":"SARS-CoV-2","e":-0.3,"s":1},{"t":"Cycling NK/T cells","g":"ACE2","e":2.1,"s":1},{"t":"Cycling NK/T cells","g":"BSG","e":0.8,"s":3},{"t":"Cycling NK/T cells","g":"NPR1","e":-0.3,"s":1},{"t":"Cycling NK/T cells","g":"TMPRSS2","e":0.0,"s":3},{"t":"Cycling NK/T cells","g":"FURIN","e":-0.4,"s":1},{"t":"Cycling NK/T cells","g":"CTSL","e":-0.4,"s":1},
{"t":"CD8⁺ T cells","g":"SARS-CoV-2","e":-0.5,"s":1},{"t":"CD8⁺ T cells","g":"ACE2","e":-0.5,"s":1},{"t":"CD8⁺ T cells","g":"BSG","e":-0.4,"s":1},{"t":"CD8⁺ T cells","g":"NPR1","e":-0.5,"s":1},{"t":"CD8⁺ T cells","g":"TMPRSS2","e":-0.4,"s":1},{"t":"CD8⁺ T cells","g":"FURIN","e":-0.5,"s":1},{"t":"CD8⁺ T cells","g":"CTSL","e":-0.4,"s":1},
{"t":"CD4⁺ T cells","g":"SARS-CoV-2","e":-0.5,"s":1},{"t":"CD4⁺ T cells","g":"ACE2","e":-0.5,"s":1},{"t":"CD4⁺ T cells","g":"BSG","e":-0.4,"s":1},{"t":"CD4⁺ T cells","g":"NPR1","e":-0.5,"s":1},{"t":"CD4⁺ T cells","g":"TMPRSS2","e":-0.4,"s":1},{"t":"CD4⁺ T cells","g":"FURIN","e":-0.5,"s":1},{"t":"CD4⁺ T cells","g":"CTSL","e":-0.4,"s":1},
{"t":"B cells","g":"SARS-CoV-2","e":-0.5,"s":1},{"t":"B cells","g":"ACE2","e":-0.5,"s":1},{"t":"B cells","g":"BSG","e":-0.4,"s":1},{"t":"B cells","g":"NPR1","e":-0.5,"s":1},{"t":"B cells","g":"TMPRSS2","e":-0.4,"s":1},{"t":"B cells","g":"FURIN","e":-0.5,"s":1},{"t":"B cells","g":"CTSL","e":-0.4,"s":1},
{"t":"AT2","g":"SARS-CoV-2","e":-0.5,"s":1},{"t":"AT2","g":"ACE2","e":1.3,"s":1},{"t":"AT2","g":"BSG","e":-0.4,"s":1},{"t":"AT2","g":"NPR1","e":2.1,"s":2},{"t":"AT2","g":"TMPRSS2","e":2.2,"s":35},{"t":"AT2","g":"FURIN","e":-0.5,"s":1},{"t":"AT2","g":"CTSL","e":-0.4,"s":1},
{"t":"AT1","g":"SARS-CoV-2","e":-0.5,"s":1},{"t":"AT1","g":"ACE2","e":-0.5,"s":1},{"t":"AT1","g":"BSG","e":-0.4,"s":1},{"t":"AT1","g":"NPR1","e":-0.5,"s":1},{"t":"AT1","g":"TMPRSS2","e":1.7,"s":20},{"t":"AT1","g":"FURIN","e":-1.0,"s":1},{"t":"AT1","g":"CTSL","e":-0.4,"s":1},
{"t":"Airway epithelia","g":"SARS-CoV-2","e":-0.5,"s":1},{"t":"Airway epithelia","g":"ACE2","e":-0.4,"s":1},{"t":"Airway epithelia","g":"BSG","e":0.7,"s":3},{"t":"Airway epithelia","g":"NPR1","e":-0.4,"s":1},{"t":"Airway epithelia","g":"TMPRSS2","e":1.6,"s":20},{"t":"Airway epithelia","g":"FURIN","e":-0.5,"s":1},{"t":"Airway epithelia","g":"CTSL","e":-0.4,"s":1}
],
"de":[
{"t":"Tregs","g":"SARS-CoV-2","e":-0.5,"s":1},{"t":"Tregs","g":"ACE2","e":-0.5,"s":1},{"t":"Tregs","g":"BSG","e":-0.4,"s":1},{"t":"Tregs","g":"NPR1","e":-0.5,"s":1},{"t":"Tregs","g":"TMPRSS2","e":-0.4,"s":1},{"t":"Tregs","g":"FURIN","e":-0.5,"s":1},{"t":"Tregs","g":"CTSL","e":-0.4,"s":1},
{"t":"Smooth muscle","g":"SARS-CoV-2","e":-0.3,"s":1},{"t":"Smooth muscle","g":"ACE2","e":0.5,"s":1},{"t":"Smooth muscle","g":"BSG","e":1.7,"s":20},{"t":"Smooth muscle","g":"NPR1","e":0.0,"s":1.5},{"t":"Smooth muscle","g":"TMPRSS2","e":-0.3,"s":1},{"t":"Smooth muscle","g":"FURIN","e":1.2,"s":3},{"t":"Smooth muscle","g":"CTSL","e":0.4,"s":20},
{"t":"Plasma cells","g":"SARS-CoV-2","e":-0.5,"s":1},{"t":"Plasma cells","g":"ACE2","e":-0.5,"s":1},{"t":"Plasma cells","g":"BSG","e":0.8,"s":3},{"t":"Plasma cells","g":"NPR1","e":-0.5,"s":1},{"t":"Plasma cells","g":"TMPRSS2","e":-0.5,"s":1},{"t":"Plasma cells","g":"FURIN","e":-0.5,"s":1},{"t":"Plasma cells","g":"CTSL","e":-0.4,"s":1},
{"t":"Other epithelial cells","g":"SARS-CoV-2","e":-0.3,"s":1},{"t":"Other epithelial cells","g":"ACE2","e":1.7,"s":1},{"t":"Other epithelial cells","g":"BSG","e":0.6,"s":1.5},{"t":"Other epithelial cells","g":"NPR1","e":0.5,"s":1},{"t":"Other epithelial cells","g":"TMPRSS2","e":0.7,"s":1.5},{"t":"Other epithelial cells","g":"FURIN","e":1.2,"s":1.5},{"t":"Other epithelial cells","g":"CTSL","e":1.1,"s":3},
{"t":"NK cells","g":"SARS-CoV-2","e":-0.5,"s":1},{"t":"NK cells","g":"ACE2","e":-0.5,"s":1},{"t":"NK cells","g":"BSG","e":-0.4,"s":1},{"t":"NK cells","g":"NPR1","e":-0.5,"s":1},{"t":"NK cells","g":"TMPRSS2","e":-0.4,"s":1},{"t":"NK cells","g":"FURIN","e":1.2,"s":1},{"t":"NK cells","g":"CTSL","e":-0.4,"s":1},
{"t":"Neuronal cells","g":"SARS-CoV-2","e":-0.5,"s":1},{"t":"Neuronal cells","g":"ACE2","e":-0.5,"s":1},{"t":"Neuronal cells","g":"BSG","e":0.0,"s":1.5},{"t":"Neuronal cells","g":"NPR1","e":2.2,"s":3},{"t":"Neuronal cells","g":"TMPRSS2","e":-0.4,"s":1},{"t":"Neuronal cells","g":"FURIN","e":-0.5,"s":1},{"t":"Neuronal cells","g":"CTSL","e":0.0,"s":1.5},
{"t":"Monocytes","g":"SARS-CoV-2","e":0.6,"s":1},{"t":"Monocytes","g":"ACE2","e":-0.5,"s":1},{"t":"Monocytes","g":"BSG","e":-0.4,"s":1},{"t":"Monocytes","g":"NPR1","e":-0.5,"s":1},{"t":"Monocytes","g":"TMPRSS2","e":-0.4,"s":1},{"t":"Monocytes","g":"FURIN","e":0.6,"s":1},{"t":"Monocytes","g":"CTSL","e":0.4,"s":3},
{"t":"Mast cells","g":"SARS-CoV-2","e":-0.5,"s":1},{"t":"Mast cells","g":"ACE2","e":-0.5,"s":1},{"t":"Mast cells","g":"BSG","e":-0.4,"s":1},{"t":"Mast cells","g":"NPR1","e":-0.5,"s":1},{"t":"Mast cells","g":"TMPRSS2","e":-0.4,"s":1},{"t":"Mast cells","g":"FURIN","e":-1.0,"s":1},{"t":"Mast cells","g":"CTSL","e":-0.4,"s":1},
{"t":"Macrophages","g":"SARS-CoV-2","e":-0.5,"s":1},{"t":"Macrophages","g":"ACE2","e":-0.5,"s":1},{"t":"Macrophages","g":"BSG","e":0.5,"s":1.5},{"t":"Macrophages","g":"NPR1","e":-0.5,"s":1},{"t":"Macrophages","g":"TMPRSS2","e":-0.5,"s":1},{"t":"Macrophages","g":"FURIN","e":1.2,"s":3},{"t":"Macrophages","g":"CTSL","e":2.2,"s":35},
{"t":"Fibroblasts","g":"SARS-CoV-2","e":-0.5,"s":1},{"t":"Fibroblasts","g":"ACE2","e":-0.5,"s":1},{"t":"Fibroblasts","g":"BSG","e":1.3,"s":4},{"t":"Fibroblasts","g":"NPR1","e":-0.5,"s":1},{"t":"Fibroblasts","g":"TMPRSS2","e":-0.5,"s":1},{"t":"Fibroblasts","g":"FURIN","e":-0.4,"s":1},{"t":"Fibroblasts","g":"CTSL","e":0.5,"s":1.5},
{"t":"Endothelial cells","g":"SARS-CoV-2","e":-0.5,"s":1},{"t":"Endothelial cells","g":"ACE2","e":-0.5,"s":1},{"t":"Endothelial cells","g":"BSG","e":0.0,"s":1.5},{"t":"Endothelial cells","g":"NPR1","e":2.2,"s":2},{"t":"Endothelial cells","g":"TMPRSS2","e":-0.5,"s":1},{"t":"Endothelial cells","g":"FURIN","e":-0.3,"s":1},{"t":"Endothelial cells","g":"CTSL","e":-0.4,"s":1},
{"t":"Dendritic cells","g":"SARS-CoV-2","e":-0.5,"s":1},{"t":"Dendritic cells","g":"ACE2","e":-0.5,"s":1},{"t":"Dendritic cells","g":"BSG","e":-0.4,"s":1},{"t":"Dendritic cells","g":"NPR1","e":-0.5,"s":1},{"t":"Dendritic cells","g":"TMPRSS2","e":-0.4,"s":1},{"t":"Dendritic cells","g":"FURIN","e":-0.3,"s":1},{"t":"Dendritic cells","g":"CTSL","e":0.0,"s":1.5},
{"t":"Cycling NK/T cells","g":"SARS-CoV-2","e":-0.4,"s":1},{"t":"Cycling NK/T cells","g":"ACE2","e":-0.5,"s":1},{"t":"Cycling NK/T cells","g":"BSG","e":1.2,"s":3},{"t":"Cycling NK/T cells","g":"NPR1","e":-0.4,"s":1},{"t":"Cycling NK/T cells","g":"TMPRSS2","e":-0.4,"s":1},{"t":"Cycling NK/T cells","g":"FURIN","e":1.8,"s":3},{"t":"Cycling NK/T cells","g":"CTSL","e":0.4,"s":3},
{"t":"CD8⁺ T cells","g":"SARS-CoV-2","e":-0.5,"s":1},{"t":"CD8⁺ T cells","g":"ACE2","e":1.4,"s":1},{"t":"CD8⁺ T cells","g":"BSG","e":-0.4,"s":1},{"t":"CD8⁺ T cells","g":"NPR1","e":-0.5,"s":1},{"t":"CD8⁺ T cells","g":"TMPRSS2","e":-0.4,"s":1},{"t":"CD8⁺ T cells","g":"FURIN","e":-0.5,"s":1},{"t":"CD8⁺ T cells","g":"CTSL","e":-0.4,"s":1},
{"t":"CD4⁺ T cells","g":"SARS-CoV-2","e":-0.5,"s":1},{"t":"CD4⁺ T cells","g":"ACE2","e":-0.5,"s":1},{"t":"CD4⁺ T cells","g":"BSG","e":-0.4,"s":1},{"t":"CD4⁺ T cells","g":"NPR1","e":-0.5,"s":1},{"t":"CD4⁺ T cells","g":"TMPRSS2","e":-0.4,"s":1},{"t":"CD4⁺ T cells","g":"FURIN","e":-0.5,"s":1},{"t":"CD4⁺ T cells","g":"CTSL","e":-0.4,"s":1},
{"t":"B cells","g":"SARS-CoV-2","e":-0.5,"s":1},{"t":"B cells","g":"ACE2","e":-0.5,"s":1},{"t":"B cells","g":"BSG","e":-0.4,"s":1},{"t":"B cells","g":"NPR1","e":-0.5,"s":1},{"t":"B cells","g":"TMPRSS2","e":-0.4,"s":1},{"t":"B cells","g":"FURIN","e":-0.5,"s":1},{"t":"B cells","g":"CTSL","e":-0.4,"s":1},
{"t":"AT2","g":"SARS-CoV-2","e":-0.5,"s":1},{"t":"AT2","g":"ACE2","e":1.6,"s":1},{"t":"AT2","g":"BSG","e":0.6,"s":3},{"t":"AT2","g":"NPR1","e":1.1,"s":1.5},{"t":"AT2","g":"TMPRSS2","e":1.9,"s":25},{"t":"AT2","g":"FURIN","e":0.0,"s":1.5},{"t":"AT2","g":"CTSL","e":-0.4,"s":1},
{"t":"AT1","g":"SARS-CoV-2","e":-0.5,"s":1},{"t":"AT1","g":"ACE2","e":1.6,"s":1},{"t":"AT1","g":"BSG","e":0.5,"s":4},{"t":"AT1","g":"NPR1","e":-0.4,"s":1},{"t":"AT1","g":"TMPRSS2","e":2.2,"s":32},{"t":"AT1","g":"FURIN","e":0.0,"s":1.5},{"t":"AT1","g":"CTSL","e":-0.4,"s":1},
{"t":"Airway epithelia","g":"SARS-CoV-2","e":2.1,"s":1},{"t":"Airway epithelia","g":"ACE2","e":-0.5,"s":1},{"t":"Airway epithelia","g":"BSG","e":0.5,"s":3},{"t":"Airway epithelia","g":"NPR1","e":-0.4,"s":1},{"t":"Airway epithelia","g":"TMPRSS2","e":1.3,"s":15},{"t":"Airway epithelia","g":"FURIN","e":-0.5,"s":1},{"t":"Airway epithelia","g":"CTSL","e":0.0,"s":1.5}
],
"df":[
{"t":"Tregs","g":"SARS-CoV-2","e":-0.5,"s":1},{"t":"Tregs","g":"ACE2","e":-0.5,"s":1},{"t":"Tregs","g":"BSG","e":-0.4,"s":1},{"t":"Tregs","g":"NPR1","e":-0.5,"s":1},{"t":"Tregs","g":"TMPRSS2","e":-0.4,"s":1},{"t":"Tregs","g":"FURIN","e":-0.8,"s":1},{"t":"Tregs","g":"CTSL","e":-0.4,"s":1},
{"t":"Smooth muscle","g":"SARS-CoV-2","e":-0.5,"s":1},{"t":"Smooth muscle","g":"ACE2","e":0.8,"s":1},{"t":"Smooth muscle","g":"BSG","e":0.0,"s":1.5},{"t":"Smooth muscle","g":"NPR1","e":0.2,"s":1.5},{"t":"Smooth muscle","g":"TMPRSS2","e":-0.4,"s":1},{"t":"Smooth muscle","g":"FURIN","e":-0.4,"s":1.5},{"t":"Smooth muscle","g":"CTSL","e":0.1,"s":1.5},
{"t":"Plasma cells","g":"SARS-CoV-2","e":-0.5,"s":1},{"t":"Plasma cells","g":"ACE2","e":-0.5,"s":1},{"t":"Plasma cells","g":"BSG","e":0.1,"s":3},{"t":"Plasma cells","g":"NPR1","e":-0.5,"s":1},{"t":"Plasma cells","g":"TMPRSS2","e":-0.5,"s":1},{"t":"Plasma cells","g":"FURIN","e":-0.5,"s":1},{"t":"Plasma cells","g":"CTSL","e":-0.4,"s":1},
{"t":"Other epithelial cells","g":"SARS-CoV-2","e":-0.4,"s":1},{"t":"Other epithelial cells","g":"ACE2","e":-0.3,"s":1},{"t":"Other epithelial cells","g":"BSG","e":0.9,"s":10},{"t":"Other epithelial cells","g":"NPR1","e":-0.4,"s":1},{"t":"Other epithelial cells","g":"TMPRSS2","e":0.5,"s":7},{"t":"Other epithelial cells","g":"FURIN","e":1.8,"s":3},{"t":"Other epithelial cells","g":"CTSL","e":0.5,"s":1.5},
{"t":"NK cells","g":"SARS-CoV-2","e":1.2,"s":1},{"t":"NK cells","g":"ACE2","e":-0.5,"s":1},{"t":"NK cells","g":"BSG","e":-0.4,"s":1},{"t":"NK cells","g":"NPR1","e":-0.5,"s":1},{"t":"NK cells","g":"TMPRSS2","e":-0.4,"s":1},{"t":"NK cells","g":"FURIN","e":0.6,"s":1},{"t":"NK cells","g":"CTSL","e":-0.4,"s":1},
{"t":"Neuronal cells","g":"SARS-CoV-2","e":-0.5,"s":1},{"t":"Neuronal cells","g":"ACE2","e":-0.5,"s":1},{"t":"Neuronal cells","g":"BSG","e":-0.4,"s":1},{"t":"Neuronal cells","g":"NPR1","e":2.2,"s":4},{"t":"Neuronal cells","g":"TMPRSS2","e":-0.4,"s":1},{"t":"Neuronal cells","g":"FURIN","e":-0.5,"s":1},{"t":"Neuronal cells","g":"CTSL","e":-0.4,"s":1},
{"t":"Monocytes","g":"SARS-CoV-2","e":-0.5,"s":1},{"t":"Monocytes","g":"ACE2","e":-0.5,"s":1},{"t":"Monocytes","g":"BSG","e":-0.4,"s":1},{"t":"Monocytes","g":"NPR1","e":-0.5,"s":1},{"t":"Monocytes","g":"TMPRSS2","e":-0.4,"s":1},{"t":"Monocytes","g":"FURIN","e":0.8,"s":1.5},{"t":"Monocytes","g":"CTSL","e":0.5,"s":1.5},
{"t":"Mast cells","g":"SARS-CoV-2","e":2.1,"s":1},{"t":"Mast cells","g":"ACE2","e":-0.5,"s":1},{"t":"Mast cells","g":"BSG","e":-0.4,"s":1},{"t":"Mast cells","g":"NPR1","e":-0.5,"s":1},{"t":"Mast cells","g":"TMPRSS2","e":-0.4,"s":1},{"t":"Mast cells","g":"FURIN","e":-0.8,"s":1},{"t":"Mast cells","g":"CTSL","e":-0.4,"s":1},
{"t":"Macrophages","g":"SARS-CoV-2","e":-0.5,"s":1},{"t":"Macrophages","g":"ACE2","e":-0.5,"s":1},{"t":"Macrophages","g":"BSG","e":0.2,"s":3},{"t":"Macrophages","g":"NPR1","e":-0.5,"s":1},{"t":"Macrophages","g":"TMPRSS2","e":-0.5,"s":1},{"t":"Macrophages","g":"FURIN","e":1.4,"s":4},{"t":"Macrophages","g":"CTSL","e":2.2,"s":38},
{"t":"Fibroblasts","g":"SARS-CoV-2","e":-0.5,"s":1},{"t":"Fibroblasts","g":"ACE2","e":-0.5,"s":1},{"t":"Fibroblasts","g":"BSG","e":0.2,"s":3},{"t":"Fibroblasts","g":"NPR1","e":-0.5,"s":1},{"t":"Fibroblasts","g":"TMPRSS2","e":-0.5,"s":1},{"t":"Fibroblasts","g":"FURIN","e":-0.4,"s":1},{"t":"Fibroblasts","g":"CTSL","e":0.1,"s":1.5},
{"t":"Endothelial cells","g":"SARS-CoV-2","e":-0.5,"s":1},{"t":"Endothelial cells","g":"ACE2","e":-0.5,"s":1},{"t":"Endothelial cells","g":"BSG","e":-0.4,"s":1},{"t":"Endothelial cells","g":"NPR1","e":2.2,"s":2},{"t":"Endothelial cells","g":"TMPRSS2","e":-0.5,"s":1},{"t":"Endothelial cells","g":"FURIN","e":-0.2,"s":1},{"t":"Endothelial cells","g":"CTSL","e":-0.4,"s":1},
{"t":"Dendritic cells","g":"SARS-CoV-2","e":-0.5,"s":1},{"t":"Dendritic cells","g":"ACE2","e":-0.5,"s":1},{"t":"Dendritic cells","g":"BSG","e":-0.4,"s":1},{"t":"Dendritic cells","g":"NPR1","e":-0.5,"s":1},{"t":"Dendritic cells","g":"TMPRSS2","e":-0.4,"s":1},{"t":"Dendritic cells","g":"FURIN","e":0.0,"s":1.5},{"t":"Dendritic cells","g":"CTSL","e":-0.4,"s":1},
{"t":"Cycling NK/T cells","g":"SARS-CoV-2","e":0.6,"s":1},{"t":"Cycling NK/T cells","g":"ACE2","e":-0.5,"s":1},{"t":"Cycling NK/T cells","g":"BSG","e":2.1,"s":6},{"t":"Cycling NK/T cells","g":"NPR1","e":-0.5,"s":1},{"t":"Cycling NK/T cells","g":"TMPRSS2","e":-0.4,"s":1},{"t":"Cycling NK/T cells","g":"FURIN","e":1.3,"s":1.5},{"t":"Cycling NK/T cells","g":"CTSL","e":0.5,"s":1.5},
{"t":"CD8⁺ T cells","g":"SARS-CoV-2","e":-0.5,"s":1},{"t":"CD8⁺ T cells","g":"ACE2","e":-0.5,"s":1},{"t":"CD8⁺ T cells","g":"BSG","e":-0.4,"s":1},{"t":"CD8⁺ T cells","g":"NPR1","e":-0.5,"s":1},{"t":"CD8⁺ T cells","g":"TMPRSS2","e":-0.4,"s":1},{"t":"CD8⁺ T cells","g":"FURIN","e":-0.5,"s":1},{"t":"CD8⁺ T cells","g":"CTSL","e":-0.4,"s":1},
{"t":"CD4⁺ T cells","g":"SARS-CoV-2","e":-0.5,"s":1},{"t":"CD4⁺ T cells","g":"ACE2","e":-0.5,"s":1},{"t":"CD4⁺ T cells","g":"BSG","e":-0.4,"s":1},{"t":"CD4⁺ T cells","g":"NPR1","e":-0.5,"s":1},{"t":"CD4⁺ T cells","g":"TMPRSS2","e":-0.4,"s":1},{"t":"CD4⁺ T cells","g":"FURIN","e":-0.5,"s":1},{"t":"CD4⁺ T cells","g":"CTSL","e":-0.4,"s":1},
{"t":"B cells","g":"SARS-CoV-2","e":-0.5,"s":1},{"t":"B cells","g":"ACE2","e":-0.5,"s":1},{"t":"B cells","g":"BSG","e":-0.4,"s":1},{"t":"B cells","g":"NPR1","e":-0.5,"s":1},{"t":"B cells","g":"TMPRSS2","e":-0.4,"s":1},{"t":"B cells","g":"FURIN","e":-1.0,"s":1},{"t":"B cells","g":"CTSL","e":-0.4,"s":1},
{"t":"AT2","g":"SARS-CoV-2","e":-0.5,"s":1},{"t":"AT2","g":"ACE2","e":2.1,"s":1},{"t":"AT2","g":"BSG","e":0.2,"s":3},{"t":"AT2","g":"NPR1","e":0.5,"s":1.5},{"t":"AT2","g":"TMPRSS2","e":2.2,"s":30},{"t":"AT2","g":"FURIN","e":0.7,"s":1.5},{"t":"AT2","g":"CTSL","e":-0.4,"s":1},
{"t":"AT1","g":"SARS-CoV-2","e":-0.5,"s":1},{"t":"AT1","g":"ACE2","e":0.6,"s":1},{"t":"AT1","g":"BSG","e":0.0,"s":3},{"t":"AT1","g":"NPR1","e":-0.4,"s":1},{"t":"AT1","g":"TMPRSS2","e":2.2,"s":32},{"t":"AT1","g":"FURIN","e":0.0,"s":1.5},{"t":"AT1","g":"CTSL","e":-0.4,"s":1},
{"t":"Airway epithelia","g":"SARS-CoV-2","e":-0.5,"s":1},{"t":"Airway epithelia","g":"ACE2","e":-0.4,"s":1},{"t":"Airway epithelia","g":"BSG","e":0.2,"s":3},{"t":"Airway epithelia","g":"NPR1","e":-0.4,"s":1},{"t":"Airway epithelia","g":"TMPRSS2","e":0.7,"s":15},{"t":"Airway epithelia","g":"FURIN","e":-0.5,"s":1},{"t":"Airway epithelia","g":"CTSL","e":-0.4,"s":1}
]
},
"columns":1,
"align":"none",
"spacing":28,
"resolve":{"scale":{"color":"independent","size":"independent"},"legend":{"color":"independent","size":"independent"}},
"concat":[
{"width":855,"height":194,
"title":{"text":"a","anchor":"start","frame":"bounds","fontSize":13,"fontWeight":"bold","dy":17,"dx":8},
"layer":[
{"data":{"name":"ctrl"},"transform":[{"filter":{"field":"s","equal":"Female"}}],
"mark":{"type":"boxplot","extent":1.5,"size":16,"outliers":false,"box":{"fill":"white","stroke":"#D95F02","strokeWidth":1.3},"median":{"color":"#D95F02","thickness":1.3},"rule":{"color":"#D95F02","strokeWidth":1.3}},
"encoding":{"x":{"field":"t","type":"nominal","sort":["Airway epithelia","AT1","AT2","B cells","CD4⁺ T cells","CD8⁺ T cells","Cycling epithelia","Cycling NK/T cells","Dendritic cells","ECMʰⁱᵍʰ epithelia","Endothelial cells","Fibroblasts","Macrophages","Mast cells","Monocytes","Neuronal cells","NK cells","Plasma cells","Smooth muscle","Tregs"],"scale":{"type":"band","paddingInner":0,"paddingOuter":0.1},"title":"Cell type","axis":{"labelAngle":-90,"labelFontSize":12,"titleFontSize":13,"tickSize":5,"labelPadding":3,"titlePadding":12}},
"xOffset":{"field":"s","type":"nominal","scale":{"domain":["Female","Male"],"paddingInner":0,"paddingOuter":0.11}},
"y":{"field":"v","type":"quantitative","scale":{"domain":[-0.03,0.635],"nice":false,"zero":false},"title":"Frequency of all cells","axis":{"values":[0,0.2,0.4,0.6],"format":".1f","labelFontSize":12.5,"titleFontSize":12.5,"tickSize":5,"labelPadding":5,"titlePadding":9}}}},
{"data":{"name":"ctrl"},"transform":[{"filter":{"field":"s","equal":"Male"}}],
"mark":{"type":"boxplot","extent":1.5,"size":16,"outliers":false,"box":{"fill":"white","stroke":"#1B9E77","strokeWidth":1.3},"median":{"color":"#1B9E77","thickness":1.3},"rule":{"color":"#1B9E77","strokeWidth":1.3}},
"encoding":{"x":{"field":"t","type":"nominal","sort":["Airway epithelia","AT1","AT2","B cells","CD4⁺ T cells","CD8⁺ T cells","Cycling epithelia","Cycling NK/T cells","Dendritic cells","ECMʰⁱᵍʰ epithelia","Endothelial cells","Fibroblasts","Macrophages","Mast cells","Monocytes","Neuronal cells","NK cells","Plasma cells","Smooth muscle","Tregs"],"scale":{"type":"band","paddingInner":0,"paddingOuter":0.1},"title":"Cell type"},
"xOffset":{"field":"s","type":"nominal","scale":{"domain":["Female","Male"],"paddingInner":0,"paddingOuter":0.11}},
"y":{"field":"v","type":"quantitative","title":"Frequency of all cells"}}},
{"data":{"name":"ctrl"},"mark":{"type":"circle","size":38,"opacity":1},
"encoding":{"x":{"field":"t","type":"nominal","sort":["Airway epithelia","AT1","AT2","B cells","CD4⁺ T cells","CD8⁺ T cells","Cycling epithelia","Cycling NK/T cells","Dendritic cells","ECMʰⁱᵍʰ epithelia","Endothelial cells","Fibroblasts","Macrophages","Mast cells","Monocytes","Neuronal cells","NK cells","Plasma cells","Smooth muscle","Tregs"],"scale":{"type":"band","paddingInner":0,"paddingOuter":0.1},"title":"Cell type"},
"xOffset":{"field":"s","type":"nominal","scale":{"domain":["Female","Male"],"paddingInner":0,"paddingOuter":0.11}},
"y":{"field":"v","type":"quantitative","title":"Frequency of all cells"},
"color":{"field":"s","type":"nominal","scale":{"domain":["Female","Male"],"range":["#D95F02","#1B9E77"]},"legend":{"title":"Control","orient":"top","direction":"horizontal","titleOrient":"top","symbolType":"circle","symbolSize":85,"labelFontSize":12.5,"titleFontSize":12.5,"offset":-3,"columnPadding":10,"titlePadding":4,"symbolStrokeWidth":0,"symbolOffset":9,"labelOffset":7}}}},
{"data":{"name":"pc"},"mark":{"type":"text","fontSize":9,"fontStyle":"italic","align":"left","dx":-18},
"encoding":{"x":{"field":"t","type":"nominal","sort":["Airway epithelia","AT1","AT2","B cells","CD4⁺ T cells","CD8⁺ T cells","Cycling epithelia","Cycling NK/T cells","Dendritic cells","ECMʰⁱᵍʰ epithelia","Endothelial cells","Fibroblasts","Macrophages","Mast cells","Monocytes","Neuronal cells","NK cells","Plasma cells","Smooth muscle","Tregs"],"scale":{"type":"band","paddingInner":0,"paddingOuter":0.1},"title":"Cell type"},"y":{"datum":0.555},"text":{"value":"p"}}},
{"data":{"name":"pc"},"mark":{"type":"text","fontSize":9,"align":"left","dx":-10},
"encoding":{"x":{"field":"t","type":"nominal","sort":["Airway epithelia","AT1","AT2","B cells","CD4⁺ T cells","CD8⁺ T cells","Cycling epithelia","Cycling NK/T cells","Dendritic cells","ECMʰⁱᵍʰ epithelia","Endothelial cells","Fibroblasts","Macrophages","Mast cells","Monocytes","Neuronal cells","NK cells","Plasma cells","Smooth muscle","Tregs"],"scale":{"type":"band","paddingInner":0,"paddingOuter":0.1},"title":"Cell type"},"y":{"datum":0.555},"text":{"value":"="}}},
{"data":{"name":"pc"},"mark":{"type":"text","fontSize":9,"align":"left","dx":-2.5},
"encoding":{"x":{"field":"t","type":"nominal","sort":["Airway epithelia","AT1","AT2","B cells","CD4⁺ T cells","CD8⁺ T cells","Cycling epithelia","Cycling NK/T cells","Dendritic cells","ECMʰⁱᵍʰ epithelia","Endothelial cells","Fibroblasts","Macrophages","Mast cells","Monocytes","Neuronal cells","NK cells","Plasma cells","Smooth muscle","Tregs"],"scale":{"type":"band","paddingInner":0,"paddingOuter":0.1},"title":"Cell type"},"y":{"datum":0.555},"text":{"field":"p"}}}
]},
{"width":855,"height":194,
"title":{"text":"b","anchor":"start","frame":"bounds","fontSize":13,"fontWeight":"bold","dy":17,"dx":8},
"layer":[
{"data":{"name":"covid"},"transform":[{"filter":{"field":"s","equal":"Female"}}],
"mark":{"type":"boxplot","extent":1.5,"size":16,"outliers":false,"box":{"fill":"white","stroke":"#D95F02","strokeWidth":1.3},"median":{"color":"#D95F02","thickness":1.3},"rule":{"color":"#D95F02","strokeWidth":1.3}},
"encoding":{"x":{"field":"t","type":"nominal","sort":["Airway epithelia","AT1","AT2","B cells","CD4⁺ T cells","CD8⁺ T cells","Cycling epithelia","Cycling NK/T cells","Dendritic cells","ECMʰⁱᵍʰ epithelia","Endothelial cells","Fibroblasts","Macrophages","Mast cells","Monocytes","Neuronal cells","NK cells","Plasma cells","Smooth muscle","Tregs"],"scale":{"type":"band","paddingInner":0,"paddingOuter":0.1},"title":"Cell type","axis":{"labelAngle":-90,"labelFontSize":12,"titleFontSize":13,"tickSize":5,"labelPadding":3,"titlePadding":14}},
"xOffset":{"field":"s","type":"nominal","scale":{"domain":["Female","Male"],"paddingInner":0,"paddingOuter":0.11}},
"y":{"field":"v","type":"quantitative","scale":{"domain":[-0.03,0.635],"nice":false,"zero":false},"title":"Frequency of all cells","axis":{"values":[0,0.2,0.4,0.6],"format":".1f","labelFontSize":12.5,"titleFontSize":12.5,"tickSize":5,"labelPadding":5,"titlePadding":9}}}},
{"data":{"name":"covid"},"transform":[{"filter":{"field":"s","equal":"Male"}}],
"mark":{"type":"boxplot","extent":1.5,"size":16,"outliers":false,"box":{"fill":"white","stroke":"#1B9E77","strokeWidth":1.3},"median":{"color":"#1B9E77","thickness":1.3},"rule":{"color":"#1B9E77","strokeWidth":1.3}},
"encoding":{"x":{"field":"t","type":"nominal","sort":["Airway epithelia","AT1","AT2","B cells","CD4⁺ T cells","CD8⁺ T cells","Cycling epithelia","Cycling NK/T cells","Dendritic cells","ECMʰⁱᵍʰ epithelia","Endothelial cells","Fibroblasts","Macrophages","Mast cells","Monocytes","Neuronal cells","NK cells","Plasma cells","Smooth muscle","Tregs"],"scale":{"type":"band","paddingInner":0,"paddingOuter":0.1},"title":"Cell type"},
"xOffset":{"field":"s","type":"nominal","scale":{"domain":["Female","Male"],"paddingInner":0,"paddingOuter":0.11}},
"y":{"field":"v","type":"quantitative","title":"Frequency of all cells"}}},
{"data":{"name":"covid"},"mark":{"type":"circle","size":38,"opacity":1},
"encoding":{"x":{"field":"t","type":"nominal","sort":["Airway epithelia","AT1","AT2","B cells","CD4⁺ T cells","CD8⁺ T cells","Cycling epithelia","Cycling NK/T cells","Dendritic cells","ECMʰⁱᵍʰ epithelia","Endothelial cells","Fibroblasts","Macrophages","Mast cells","Monocytes","Neuronal cells","NK cells","Plasma cells","Smooth muscle","Tregs"],"scale":{"type":"band","paddingInner":0,"paddingOuter":0.1},"title":"Cell type"},
"xOffset":{"field":"s","type":"nominal","scale":{"domain":["Female","Male"],"paddingInner":0,"paddingOuter":0.11}},
"y":{"field":"v","type":"quantitative","title":"Frequency of all cells"},
"color":{"field":"s","type":"nominal","scale":{"domain":["Female","Male"],"range":["#D95F02","#1B9E77"]},"legend":{"title":"COVID-19","orient":"top","direction":"horizontal","titleOrient":"top","symbolType":"circle","symbolSize":85,"labelFontSize":12.5,"titleFontSize":12.5,"offset":-9,"columnPadding":10,"titlePadding":4,"symbolStrokeWidth":0,"symbolOffset":9,"labelOffset":7}}}},
{"data":{"name":"pv"},"mark":{"type":"text","fontSize":9,"fontStyle":"italic","align":"left","dx":-18},
"encoding":{"x":{"field":"t","type":"nominal","sort":["Airway epithelia","AT1","AT2","B cells","CD4⁺ T cells","CD8⁺ T cells","Cycling epithelia","Cycling NK/T cells","Dendritic cells","ECMʰⁱᵍʰ epithelia","Endothelial cells","Fibroblasts","Macrophages","Mast cells","Monocytes","Neuronal cells","NK cells","Plasma cells","Smooth muscle","Tregs"],"scale":{"type":"band","paddingInner":0,"paddingOuter":0.1},"title":"Cell type"},"y":{"datum":0.555},"text":{"value":"p"}}},
{"data":{"name":"pv"},"mark":{"type":"text","fontSize":9,"align":"left","dx":-10},
"encoding":{"x":{"field":"t","type":"nominal","sort":["Airway epithelia","AT1","AT2","B cells","CD4⁺ T cells","CD8⁺ T cells","Cycling epithelia","Cycling NK/T cells","Dendritic cells","ECMʰⁱᵍʰ epithelia","Endothelial cells","Fibroblasts","Macrophages","Mast cells","Monocytes","Neuronal cells","NK cells","Plasma cells","Smooth muscle","Tregs"],"scale":{"type":"band","paddingInner":0,"paddingOuter":0.1},"title":"Cell type"},"y":{"datum":0.555},"text":{"value":"="}}},
{"data":{"name":"pv"},"mark":{"type":"text","fontSize":9,"align":"left","dx":-2.5},
"encoding":{"x":{"field":"t","type":"nominal","sort":["Airway epithelia","AT1","AT2","B cells","CD4⁺ T cells","CD8⁺ T cells","Cycling epithelia","Cycling NK/T cells","Dendritic cells","ECMʰⁱᵍʰ epithelia","Endothelial cells","Fibroblasts","Macrophages","Mast cells","Monocytes","Neuronal cells","NK cells","Plasma cells","Smooth muscle","Tregs"],"scale":{"type":"band","paddingInner":0,"paddingOuter":0.1},"title":"Cell type"},"y":{"datum":0.555},"text":{"field":"p"}}}
]},
{"hconcat":[
{"width":1,"height":184,"data":{"values":[{}]},"mark":{"type":"point","opacity":0},"encoding":{}},
{"hconcat":[
{"width":92,"height":184,"data":{"name":"dc"},
"title":{"text":"Female control patients","fontSize":13,"fontWeight":"normal","anchor":"middle","offset":6,"dy":28},
"mark":{"type":"circle","opacity":1},
"encoding":{
"x":{"field":"g","type":"nominal","sort":["SARS-CoV-2","ACE2","BSG","NPR1","TMPRSS2","FURIN","CTSL"],"title":null,"scale":{"padding":0.55},"axis":{"labelAngle":-45,"labelFontSize":10.5,"tickSize":3,"labelPadding":2}},
"y":{"field":"t","type":"nominal","sort":["Tregs","Smooth muscle","Plasma cells","Other epithelial cells","NK cells","Neuronal cells","Monocytes","Mast cells","Macrophages","Fibroblasts","Endothelial cells","Dendritic cells","Cycling NK/T cells","CD8⁺ T cells","CD4⁺ T cells","B cells","AT2","AT1","Airway epithelia"],"title":"c","scale":{"padding":0.6},"axis":{"labelFontSize":10,"tickSize":3,"labelPadding":2,"titleAngle":0,"titleFontWeight":"bold","titleFontSize":13,"titleX":-80,"titleY":-26,"titleAlign":"left","titleBaseline":"alphabetic"}},
"color":{"field":"e","type":"quantitative","scale":{"scheme":"viridis","domain":[-0.9,2.4]},"legend":{"title":["Average","expression"],"values":[0,1,2],"orient":"none","legendX":96,"legendY":30,"gradientLength":36,"gradientThickness":9,"titleFontSize":10,"labelFontSize":10,"titlePadding":3}},
"size":{"field":"s","type":"quantitative","scale":{"domain":[0,38],"range":[2,70]},"legend":{"title":["Percent","expressed"],"values":[0,10,20,30],"orient":"none","legendX":96,"legendY":100,"titleFontSize":10,"labelFontSize":10,"symbolFillColor":"black","symbolStrokeColor":"black","titlePadding":3,"rowPadding":0}}}},
{"width":92,"height":184,"data":{"name":"dd"},
"title":{"text":"Male control patients","fontSize":13,"fontWeight":"normal","anchor":"middle","offset":6,"dy":28},
"mark":{"type":"circle","opacity":1},
"encoding":{
"x":{"field":"g","type":"nominal","sort":["SARS-CoV-2","ACE2","BSG","NPR1","TMPRSS2","FURIN","CTSL"],"title":null,"scale":{"padding":0.55},"axis":{"labelAngle":-45,"labelFontSize":10.5,"tickSize":3,"labelPadding":2}},
"y":{"field":"t","type":"nominal","sort":["Tregs","Smooth muscle","Plasma cells","Other epithelial cells","NK cells","Neuronal cells","Monocytes","Mast cells","Macrophages","Fibroblasts","Endothelial cells","Dendritic cells","Cycling NK/T cells","CD8⁺ T cells","CD4⁺ T cells","B cells","AT2","AT1","Airway epithelia"],"title":"d","scale":{"padding":0.6},"axis":{"labelFontSize":10,"tickSize":3,"labelPadding":2,"titleAngle":0,"titleFontWeight":"bold","titleFontSize":13,"titleX":-80,"titleY":-26,"titleAlign":"left","titleBaseline":"alphabetic"}},
"color":{"field":"e","type":"quantitative","scale":{"scheme":"viridis","domain":[-1.2,2.5]},"legend":{"title":["Average","expression"],"values":[-1,0,1,2],"orient":"none","legendX":96,"legendY":30,"gradientLength":38,"gradientThickness":9,"titleFontSize":10,"labelFontSize":10,"titlePadding":3}},
"size":{"field":"s","type":"quantitative","scale":{"domain":[0,38],"range":[2,70]},"legend":{"title":["Percent","expressed"],"values":[0,10,20,30],"orient":"none","legendX":96,"legendY":100,"titleFontSize":10,"labelFontSize":10,"symbolFillColor":"black","symbolStrokeColor":"black","titlePadding":3,"rowPadding":0}}}},
{"width":92,"height":184,"data":{"name":"de"},
"title":{"text":"Female COVID-19 patients","fontSize":13,"fontWeight":"normal","anchor":"middle","offset":6,"dy":28},
"mark":{"type":"circle","opacity":1},
"encoding":{
"x":{"field":"g","type":"nominal","sort":["SARS-CoV-2","ACE2","BSG","NPR1","TMPRSS2","FURIN","CTSL"],"title":null,"scale":{"padding":0.55},"axis":{"labelAngle":-45,"labelFontSize":10.5,"tickSize":3,"labelPadding":2}},
"y":{"field":"t","type":"nominal","sort":["Tregs","Smooth muscle","Plasma cells","Other epithelial cells","NK cells","Neuronal cells","Monocytes","Mast cells","Macrophages","Fibroblasts","Endothelial cells","Dendritic cells","Cycling NK/T cells","CD8⁺ T cells","CD4⁺ T cells","B cells","AT2","AT1","Airway epithelia"],"title":"e","scale":{"padding":0.6},"axis":{"labelFontSize":10,"tickSize":3,"labelPadding":2,"titleAngle":0,"titleFontWeight":"bold","titleFontSize":13,"titleX":-80,"titleY":-26,"titleAlign":"left","titleBaseline":"alphabetic"}},
"color":{"field":"e","type":"quantitative","scale":{"scheme":"viridis","domain":[-1.2,2.5]},"legend":{"title":["Average","expression"],"values":[-1,0,1,2],"orient":"none","legendX":96,"legendY":30,"gradientLength":38,"gradientThickness":9,"titleFontSize":10,"labelFontSize":10,"titlePadding":3}},
"size":{"field":"s","type":"quantitative","scale":{"domain":[0,38],"range":[2,70]},"legend":{"title":["Percent","expressed"],"values":[0,10,20,30],"orient":"none","legendX":96,"legendY":100,"titleFontSize":10,"labelFontSize":10,"symbolFillColor":"black","symbolStrokeColor":"black","titlePadding":3,"rowPadding":0}}}},
{"width":92,"height":184,"data":{"name":"df"},
"title":{"text":"Male COVID-19 patients","fontSize":13,"fontWeight":"normal","anchor":"middle","offset":6,"dy":28},
"mark":{"type":"circle","opacity":1},
"encoding":{
"x":{"field":"g","type":"nominal","sort":["SARS-CoV-2","ACE2","BSG","NPR1","TMPRSS2","FURIN","CTSL"],"title":null,"scale":{"padding":0.55},"axis":{"labelAngle":-45,"labelFontSize":10.5,"tickSize":3,"labelPadding":2}},
"y":{"field":"t","type":"nominal","sort":["Tregs","Smooth muscle","Plasma cells","Other epithelial cells","NK cells","Neuronal cells","Monocytes","Mast cells","Macrophages","Fibroblasts","Endothelial cells","Dendritic cells","Cycling NK/T cells","CD8⁺ T cells","CD4⁺ T cells","B cells","AT2","AT1","Airway epithelia"],"title":"f","scale":{"padding":0.6},"axis":{"labelFontSize":10,"tickSize":3,"labelPadding":2,"titleAngle":0,"titleFontWeight":"bold","titleFontSize":13,"titleX":-80,"titleY":-26,"titleAlign":"left","titleBaseline":"alphabetic"}},
"color":{"field":"e","type":"quantitative","scale":{"scheme":"viridis","domain":[-1.2,2.5]},"legend":{"title":["Average","expression"],"values":[-1,0,1,2],"orient":"none","legendX":96,"legendY":30,"gradientLength":38,"gradientThickness":9,"titleFontSize":10,"labelFontSize":10,"titlePadding":3}},
"size":{"field":"s","type":"quantitative","scale":{"domain":[0,38],"range":[2,70]},"legend":{"title":["Percent","expressed"],"values":[0,10,20,30],"orient":"none","legendX":96,"legendY":100,"titleFontSize":10,"labelFontSize":10,"symbolFillColor":"black","symbolStrokeColor":"black","titlePadding":3,"rowPadding":0}}}}
],
"spacing":147,
"bounds":"flush",
"resolve":{"scale":{"color":"independent","size":"independent"},"legend":{"color":"independent","size":"independent"}}}
],
"spacing":41,
"bounds":"flush",
"resolve":{"scale":{"color":"independent","size":"independent"},"legend":{"color":"independent","size":"independent"}}}
]
}
